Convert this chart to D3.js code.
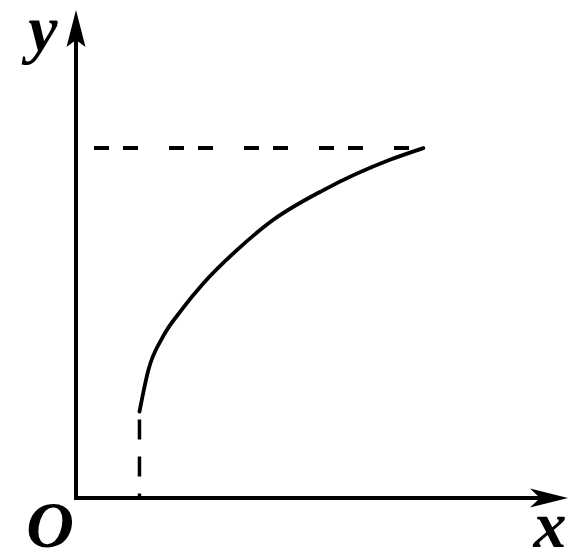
<!DOCTYPE html>
<html lang="en">
<head>
    <meta charset="UTF-8">
    <title>Curve sketch</title>
    <script src="https://d3js.org/d3.v7.min.js"></script>
    <style>
        body{
            margin: 0;
            background: #fff;
        }
        .label{
            font-family: "Liberation Serif", "DejaVu Serif", serif;
            font-style: italic;
            font-weight: bold;
            font-size: 66px;
            fill: #000;
        }
    </style>
</head>
<body>
    <div id="chart-container"></div>
    <script>
        // points, in axis units (0..10 on both axes)
        const curveX = [1.29, 1.47, 1.77, 2.15, 2.59, 3.27, 4.01, 5.03, 6.38, 7.06];
        const curveY = [1.77, 2.62, 3.31, 3.86, 4.40, 5.08, 5.70, 6.31, 6.93, 7.17];
        const axisLabels = ["x", "y", "O"];

        const w = 585;
        const h = 560;

        const xScale = d3.scaleLinear().domain([0, 10]).range([76, 568]);
        const yScale = d3.scaleLinear().domain([0, 10]).range([498, 10]);

        const svg = d3.select(document.getElementById("chart-container"))
                    .append("svg")
                    .attr("width", w)
                    .attr("height", h);

        const points = curveX.map((d, i) => [d, curveY[i]]);
        const first = points[0];
        const last = points[points.length - 1];

        const x0 = xScale(0), y0 = yScale(0);
        const xEnd = xScale(10), yEnd = yScale(10);

        // dashed guide lines
        svg.append("line")
            .attr("x1", x0)
            .attr("y1", yScale(last[1]))
            .attr("x2", xScale(last[0]))
            .attr("y2", yScale(last[1]))
            .attr("stroke", "#000")
            .attr("stroke-width", 4)
            .attr("stroke-dasharray", "15 14 15 31")
            .attr("stroke-dashoffset", 57);

        svg.append("line")
            .attr("x1", xScale(first[0]))
            .attr("y1", yScale(first[1]))
            .attr("x2", xScale(first[0]))
            .attr("y2", y0)
            .attr("stroke", "#000")
            .attr("stroke-width", 3.5)
            .attr("stroke-dasharray", "20 17")
            .attr("stroke-dashoffset", 29);

        // the curve
        const line = d3.line()
            .x(d => xScale(d[0]))
            .y(d => yScale(d[1]))
            .curve(d3.curveMonotoneX);

        svg.append("path")
            .datum(points)
            .attr("d", line)
            .attr("fill", "none")
            .attr("stroke", "#000")
            .attr("stroke-width", 3.8)
            .attr("stroke-linecap", "round");

        // axes
        svg.append("path")
            .attr("d", `M${x0},${yEnd + 30} L${x0},${y0} L${xEnd - 28},${y0}`)
            .attr("fill", "none")
            .attr("stroke", "#000")
            .attr("stroke-width", 4)
            .attr("stroke-linejoin", "miter")
            .attr("stroke-linecap", "square");

        // arrow heads
        svg.append("path")
            .attr("d", `M${x0},${yEnd} L${x0 + 9.5},${yEnd + 37} L${x0},${yEnd + 30} L${x0 - 9.5},${yEnd + 37} Z`)
            .attr("fill", "#000");

        svg.append("path")
            .attr("d", `M${xEnd},${y0} L${xEnd - 38},${y0 + 9.5} L${xEnd - 28},${y0} L${xEnd - 38},${y0 - 9.5} Z`)
            .attr("fill", "#000");

        // labels
        svg.append("text")
            .attr("class", "label")
            .attr("x", xEnd - 18)
            .attr("y", 547)
            .attr("text-anchor", "middle")
            .text(axisLabels[0]);

        svg.append("text")
            .attr("class", "label")
            .attr("x", x0 - 33)
            .attr("y", 51)
            .attr("text-anchor", "middle")
            .text(axisLabels[1]);

        svg.append("text")
            .attr("class", "label")
            .attr("x", x0 - 26)
            .attr("y", 547)
            .attr("text-anchor", "middle")
            .text(axisLabels[2]);
    </script>
</body>
</html>
